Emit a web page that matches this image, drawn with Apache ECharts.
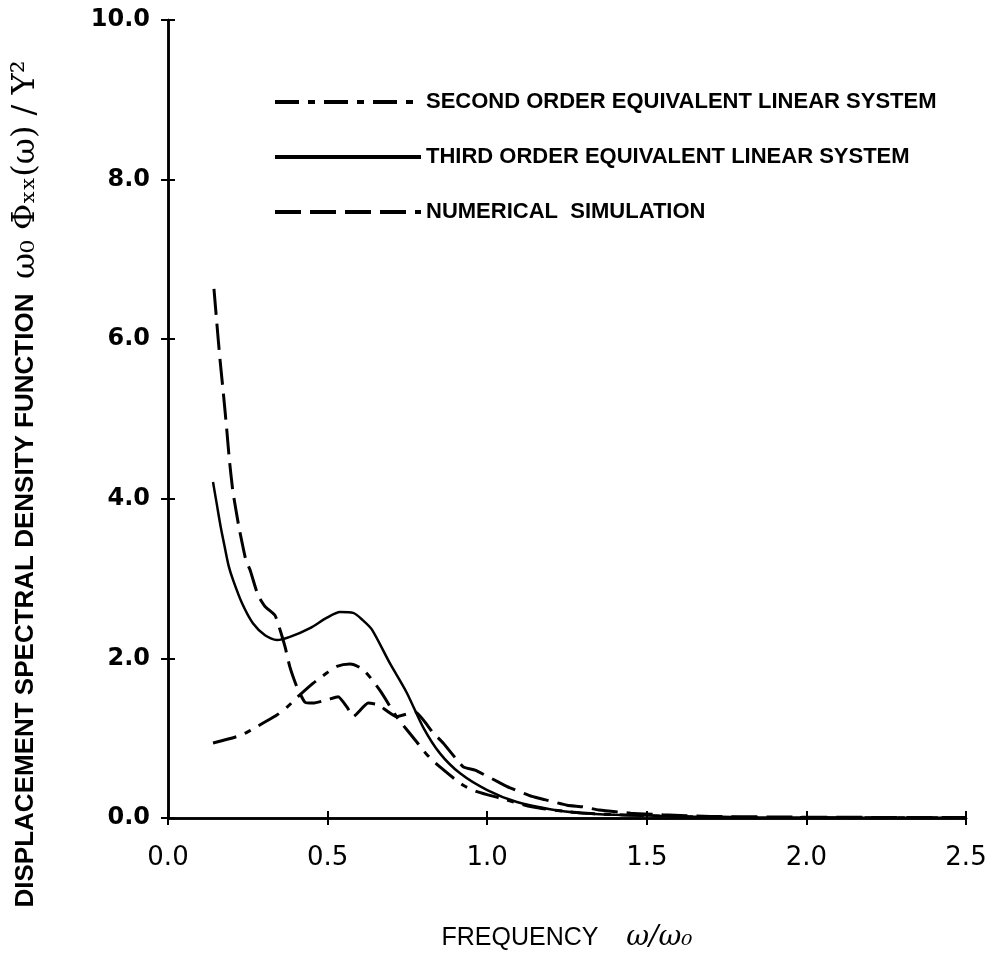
<!DOCTYPE html>
<html>
<head>
<meta charset="utf-8">
<script src="https://cdn.jsdelivr.net/npm/echarts@6/dist/echarts.min.js"></script>
<style>
html,body{margin:0;padding:0;background:#fff;}
#chart{width:1001px;height:966px;}
</style>
</head>
<body>
<div id="chart"></div>
<script>
// ---- data ----
const seriesNames = [
  'SECOND ORDER EQUIVALENT LINEAR SYSTEM',
  'THIRD ORDER EQUIVALENT LINEAR SYSTEM',
  'NUMERICAL  SIMULATION'
];
const xTicks = ['0.0','0.5','1.0','1.5','2.0','2.5'];
const yTicks = ['0.0','2.0','4.0','6.0','8.0','10.0'];

const secondX = [0.141,0.216,0.25,0.298,0.341,0.373,0.407,0.455,0.495,0.529,0.57,0.611,0.664,0.716,0.78,0.81,0.852,0.925,0.968,1.04,1.14,1.25,1.35,1.5,1.7,2.0,2.5];
const secondY = [0.94,1.02,1.08,1.19,1.29,1.39,1.52,1.69,1.81,1.90,1.93,1.86,1.60,1.27,0.95,0.80,0.64,0.41,0.33,0.25,0.14,0.08,0.05,0.03,0.01,0.005,0.002];

const thirdX = [0.141,0.153,0.165,0.178,0.19,0.204,0.232,0.266,0.304,0.341,0.382,0.445,0.498,0.539,0.58,0.61,0.639,0.695,0.748,0.799,0.852,0.915,1.0,1.093,1.197,1.3,1.4,1.5,1.6,1.8,2.0,2.2,2.5];
const thirdY = [4.21,3.93,3.65,3.39,3.16,2.98,2.69,2.44,2.29,2.23,2.27,2.38,2.51,2.58,2.57,2.48,2.36,1.94,1.57,1.14,0.81,0.56,0.35,0.20,0.11,0.06,0.04,0.03,0.02,0.01,0.005,0.003,0.002];

const simX = [0.144,0.153,0.163,0.174,0.184,0.192,0.203,0.222,0.244,0.257,0.282,0.304,0.335,0.351,0.367,0.382,0.404,0.429,0.455,0.498,0.533,0.561,0.58,0.627,0.658,0.716,0.774,0.83,0.862,0.925,0.962,1.04,1.07,1.14,1.18,1.25,1.30,1.35,1.45,1.55,1.7,2.0,2.5];
const simY = [6.63,6.20,5.74,5.30,4.87,4.50,4.10,3.65,3.23,3.11,2.79,2.65,2.54,2.36,2.14,1.89,1.64,1.45,1.44,1.48,1.52,1.39,1.27,1.44,1.42,1.27,1.33,1.07,0.94,0.64,0.60,0.44,0.38,0.27,0.23,0.16,0.14,0.10,0.06,0.04,0.02,0.01,0.005];

function pairs(xs, ys){ return xs.map((x,i)=>[x, ys[i]]); }

const chart = echarts.init(document.getElementById('chart'), null, {renderer:'canvas'});
const black = '#000';
const labelFont = 'DejaVu Sans';
const condFont = '"Liberation Sans", Arial, sans-serif';

const option = {
  backgroundColor: '#fff',
  animation: false,
  grid: {left: 168, right: 35, top: 20, bottom: 148, containLabel: false, outerBoundsMode: 'none'},
  legend: {
    orient: 'vertical',
    left: 268, top: 86,
    itemWidth: 146, itemHeight: 14, itemGap: 33,
    data: seriesNames,
    textStyle: {fontFamily: condFont, fontWeight: 'bold', fontSize: 22, color: black},
    lineStyle: {width: 4},
    itemStyle: {color: 'rgba(0,0,0,0)', borderWidth: 0, opacity: 0}
  },
  xAxis: [{
    type: 'value', min: 0, max: 2.5, interval: 0.5,
    name: 'FREQUENCY    {m|ω/ω₀}',
    nameLocation: 'middle', nameGap: 106,
    nameTextStyle: {fontFamily: 'Liberation Sans', fontSize: 25, color: black,
      rich: {m: {fontFamily: 'DejaVu Serif', fontStyle: 'italic', fontSize: 28, color: black}}},
    axisLine: {show: true, lineStyle: {color: black, width: 2.5}},
    axisTick: {show: true, inside: true, length: 7, lineStyle: {color: black, width: 2}},
    axisLabel: {margin: 27, fontFamily: labelFont, fontSize: 26, color: black,
      formatter: v => xTicks[Math.round(v/0.5)]},
    splitLine: {show: false}
  },{
    type: 'value', min: 0, max: 2.5, interval: 0.5, position: 'top',
    axisLine: {show: true, lineStyle: {color: black, width: 2.5}},
    axisTick: {show: true, inside: true, length: 7, lineStyle: {color: black, width: 2}},
    axisLabel: {show: false}, splitLine: {show: false}
  }],
  yAxis: [{
    type: 'value', min: 0, max: 10, interval: 2,
    name: 'DISPLACEMENT SPECTRAL DENSITY FUNCTION  {m|ω₀ Φₓₓ(ω) / Y²}',
    nameLocation: 'middle', nameGap: 126, nameRotate: 90,
    nameTextStyle: {fontFamily: condFont, fontWeight: 'bold', fontSize: 26, color: black,
      padding: [0, 130, 0, 0],
      rich: {m: {fontFamily: 'DejaVu Serif', fontWeight: 'normal', fontSize: 32, color: black}}},
    axisLine: {show: true, lineStyle: {color: black, width: 2.5}},
    axisTick: {show: true, inside: true, length: 7, lineStyle: {color: black, width: 2}},
    axisLabel: {margin: 18, fontFamily: labelFont, fontWeight: 'bold', fontSize: 24, color: black,
      formatter: v => yTicks[Math.round(v/2)]},
    splitLine: {show: false}
  },{
    type: 'value', min: 0, max: 10, interval: 2, position: 'right',
    axisLine: {show: true, lineStyle: {color: black, width: 2.5}},
    axisTick: {show: true, inside: true, length: 7, lineStyle: {color: black, width: 2}},
    axisLabel: {show: false}, splitLine: {show: false}
  }],
  series: [
    {name: seriesNames[0], type: 'line', data: pairs(secondX, secondY), symbol: 'none', smooth: 0.25,
     lineStyle: {color: black, width: 3, type: [24, 9, 7, 9]}, itemStyle: {color: black}},
    {name: seriesNames[1], type: 'line', data: pairs(thirdX, thirdY), symbol: 'none', smooth: 0.25,
     lineStyle: {color: black, width: 2.5, type: 'solid'}, itemStyle: {color: black}},
    {name: seriesNames[2], type: 'line', data: pairs(simX, simY), symbol: 'none', smooth: 0.15,
     lineStyle: {color: black, width: 3, type: [26, 9]}, itemStyle: {color: black}}
  ]
};
chart.setOption(option);
</script>
</body>
</html>
